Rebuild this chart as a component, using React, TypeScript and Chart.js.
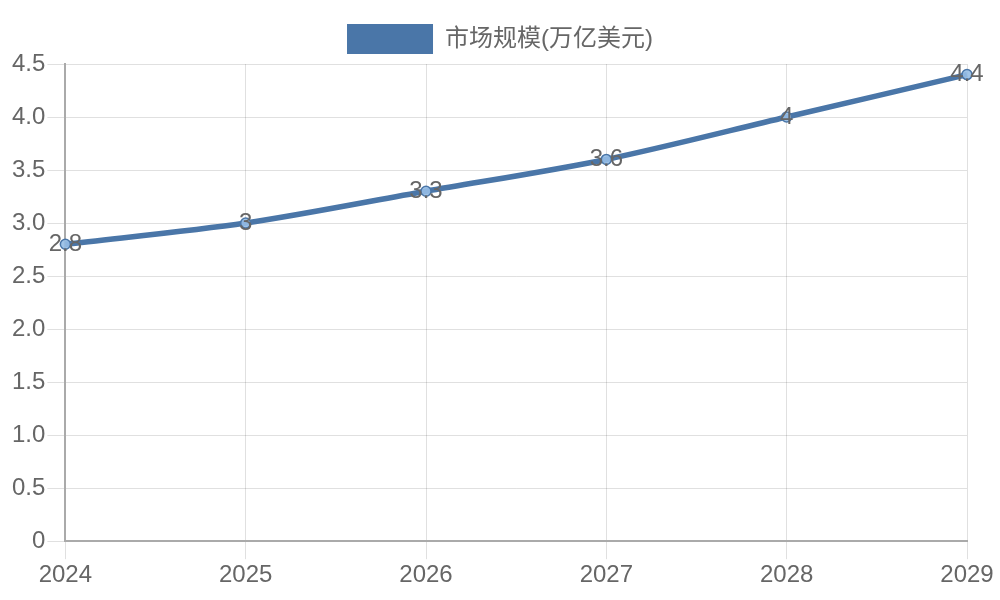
import { useEffect, useRef } from 'react'
import { Chart, registerables, type Plugin, type Scale } from 'chart.js'

Chart.register(...registerables)

const years = ['2024', '2025', '2026', '2027', '2028', '2029']
const marketSize = [2.8, 3, 3.3, 3.6, 4, 4.4]
const seriesName = '市场规模(万亿美元)'

const FONT = '"Liberation Sans", "Noto Sans CJK SC", sans-serif'
const SIZE = 24

// draws each value centred on its point
const valueLabels: Plugin<'line'> = {
  id: 'valueLabels',
  afterDatasetsDraw(chart) {
    const ctx = chart.ctx
    const meta = chart.getDatasetMeta(0)
    ctx.save()
    ctx.font = `${SIZE}px ${FONT}`
    ctx.fillStyle = '#666'
    ctx.textAlign = 'center'
    ctx.textBaseline = 'middle'
    meta.data.forEach((pt, i) => {
      ctx.fillText(String(marketSize[i]), pt.x, pt.y)
    })
    ctx.restore()
  },
}

export default function App() {
  const canvasRef = useRef<HTMLCanvasElement>(null)
  const chartRef = useRef<Chart | null>(null)

  useEffect(() => {
    document.body.style.margin = '0'
    if (!canvasRef.current) return
    chartRef.current = new Chart(canvasRef.current, {
      type: 'line',
      data: {
        labels: years,
        datasets: [
          {
            label: seriesName,
            data: marketSize,
            borderColor: '#4a76a8',
            backgroundColor: '#4a76a8',
            borderWidth: 5.5,
            tension: 0.3,
            pointRadius: 5,
            pointBackgroundColor: 'rgba(150,190,230,0.9)',
            pointBorderColor: '#4a76a8',
            pointBorderWidth: 1.5,
          },
        ],
      },
      options: {
        responsive: false,
        animation: false,
        layout: { padding: { left: 10, right: 10, top: 0, bottom: 8 } },
        scales: {
          x: {
            grid: { color: 'rgba(0,0,0,0.12)', tickLength: 18 },
            border: { color: '#aaa', width: 2 },
            ticks: { color: '#666', font: { size: SIZE, family: FONT }, padding: 2 },
            // a little more room on the right than the last label needs
            afterFit: (scale: Scale) => { scale.paddingRight = 33 },
          },
          y: {
            min: 0,
            max: 4.5,
            grid: { color: 'rgba(0,0,0,0.12)', tickLength: 18 },
            border: { color: '#aaa', width: 2 },
            ticks: { stepSize: 0.5, color: '#666', font: { size: SIZE, family: FONT }, padding: 2 },
            afterFit: (scale: Scale) => { scale.paddingTop = 64 },
          },
        },
        plugins: {
          legend: {
            labels: {
              color: '#666',
              font: { size: SIZE, family: FONT },
              boxWidth: 86,
              boxHeight: 30,
              padding: 6,
              // flat swatch, no outline
              generateLabels: (chart: Chart) =>
                Chart.defaults.plugins.legend.labels
                  .generateLabels(chart)
                  .map((item) => ({ ...item, lineWidth: 0 })),
            },
          },
          tooltip: { enabled: false },
        },
      },
      plugins: [valueLabels],
    })
    return () => {
      chartRef.current?.destroy()
      chartRef.current = null
    }
  }, [])

  return <canvas ref={canvasRef} width={1000} height={600} />
}
